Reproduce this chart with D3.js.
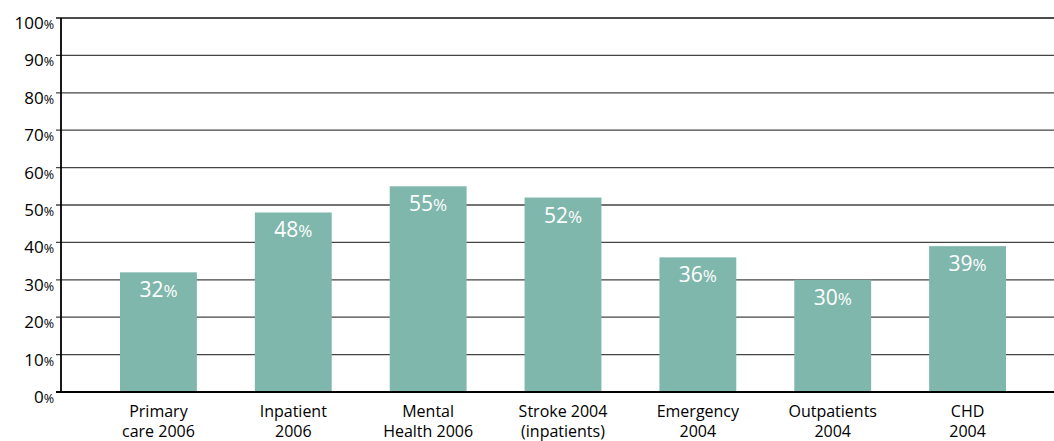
<!DOCTYPE html>
<html><head><meta charset="utf-8">
<script src="https://cdn.jsdelivr.net/npm/d3@7"></script>
<style>body{margin:0;background:#fff;} svg{display:block;font-family:"Open Sans","Noto Sans",sans-serif;}</style>
</head><body>
<svg id="c" width="1054" height="441"></svg>
<script>
const categories = [["Primary","care 2006"],["Inpatient","2006"],["Mental","Health 2006"],["Stroke 2004","(inpatients)"],["Emergency","2004"],["Outpatients","2004"],["CHD","2004"]];
const values = [32,48,55,52,36,30,39];
const tickValues = [0,10,20,30,40,50,60,70,80,90,100];

const svg = d3.select("#c");
const x0 = 61, xEnd = 1054;
const y = d3.scaleLinear().domain([0,100]).range([392,18]);
const x = d3.scaleBand().domain(d3.range(values.length)).range([91,1035]).paddingInner(0.43).paddingOuter(0.215);

// gridlines
svg.append("g").selectAll("line").data(tickValues.filter(d=>d>0)).join("line")
  .attr("x1",x0-5).attr("x2",xEnd).attr("y1",d=>y(d)).attr("y2",d=>y(d))
  .attr("stroke",d=>d===100?"#111":"#444").attr("stroke-width",d=>d===100?1.6:1.3);

// bars
svg.append("g").selectAll("rect").data(values).join("rect")
  .attr("x",(d,i)=>x(i)).attr("width",x.bandwidth())
  .attr("y",d=>y(d)).attr("height",d=>y(0)-y(d)).attr("fill","#80b7ad");

// bar labels
const bl = svg.append("g").selectAll("text").data(values).join("text")
  .attr("x",(d,i)=>x(i)+x.bandwidth()/2).attr("y",d=>y(d)+25)
  .attr("text-anchor","middle").attr("fill","#fff").attr("font-size",21);
bl.append("tspan").text(d=>d);
bl.append("tspan").attr("font-size",17).text("%");

// axes lines
svg.append("line").attr("x1",x0).attr("x2",x0).attr("y1",y(100)).attr("y2",y(0)).attr("stroke","#000").attr("stroke-width",1.8);
svg.append("line").attr("x1",x0-5).attr("x2",xEnd).attr("y1",y(0)).attr("y2",y(0)).attr("stroke","#000").attr("stroke-width",1.8);

// tick labels
const tl = svg.append("g").selectAll("text").data(tickValues).join("text")
  .attr("x",54).attr("y",d=>y(d)+11).attr("text-anchor","end").attr("fill","#000").attr("font-size",17);
tl.append("tspan").text(d=>d);
tl.append("tspan").attr("font-size",12.5).text("%");

// category labels
const cl = svg.append("g").selectAll("text").data(categories).join("text")
  .attr("text-anchor","middle").attr("fill","#000").attr("font-size",16);
cl.each(function(d,i){
  const t = d3.select(this);
  d.forEach((line,j)=>{
    t.append("tspan").attr("x",x(i)+x.bandwidth()/2).attr("y",417+j*20).text(line);
  });
});
</script>
</body></html>
